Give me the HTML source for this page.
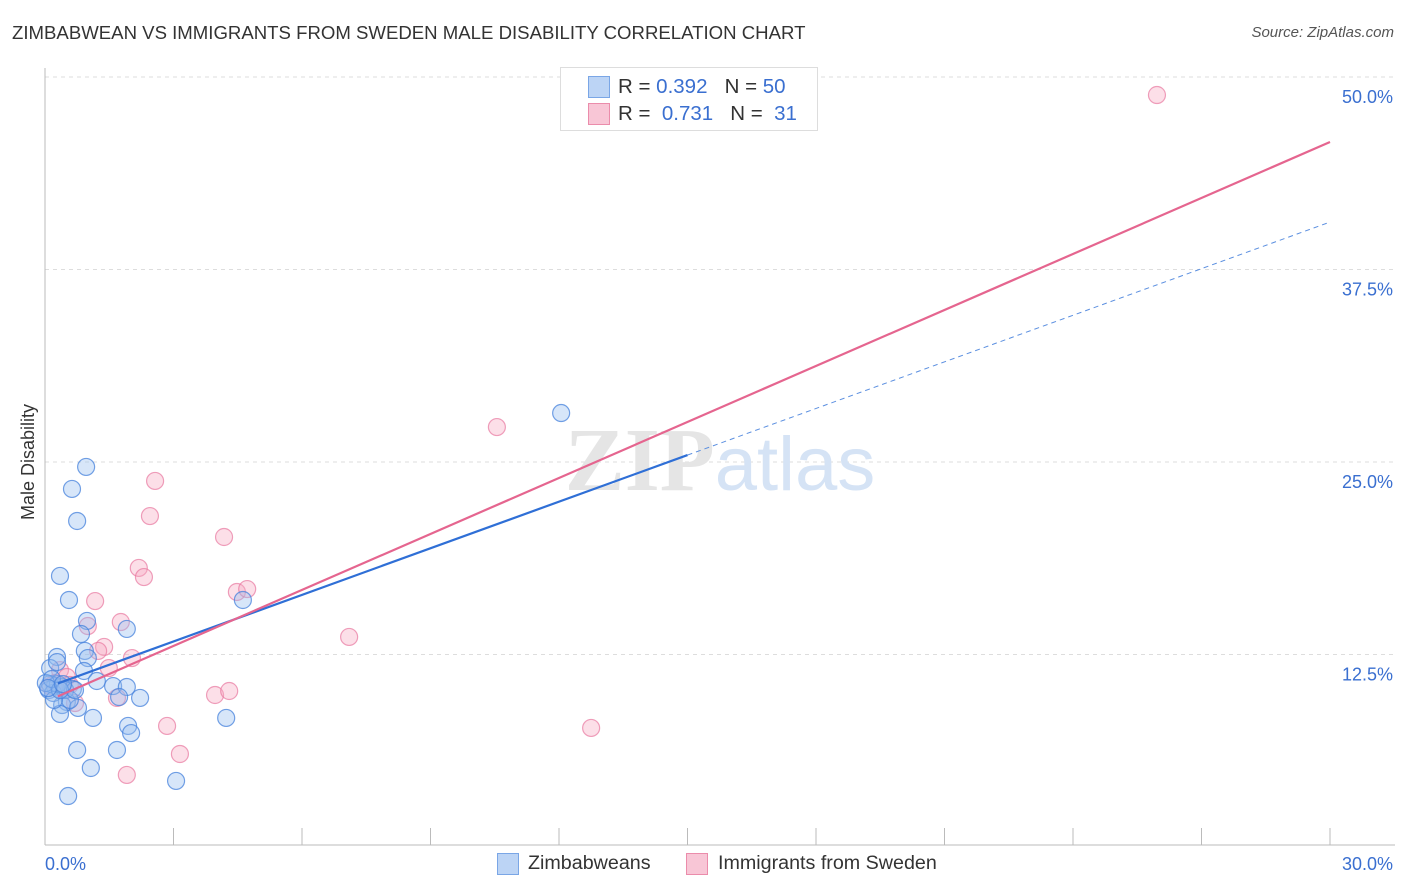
<!DOCTYPE html>
<html><head><meta charset="utf-8"><style>
body{margin:0;background:#fff;font-family:"Liberation Sans",sans-serif;}
#wrap{position:relative;width:1406px;height:892px;overflow:hidden;}
.t{position:absolute;white-space:nowrap;}
</style></head><body>
<div id="wrap">
<div class="t" style="left:12px;top:22px;font-size:18.6px;color:#333;">ZIMBABWEAN VS IMMIGRANTS FROM SWEDEN MALE DISABILITY CORRELATION CHART</div>
<div class="t" style="right:12px;top:24px;font-size:15px;color:#555;font-style:italic;">Source: ZipAtlas.com</div>
<div class="t" style="font-size:18px;color:#333;transform:rotate(-90deg);transform-origin:left top;top:520px;left:18px;">Male Disability</div>
<svg id="svg" width="1406" height="892" style="position:absolute;left:0;top:0"></svg>
<div class="t" style="left:560px;top:67px;width:256px;height:62px;border:1px solid #ddd;background:#fff;font-size:20.5px;color:#333;">
  <div style="position:absolute;left:27px;top:8px;width:20px;height:20px;background:#bcd4f5;border:1px solid #7aa6e6;"></div>
  <div style="position:absolute;left:57px;top:7px;">R = <span style="color:#3a6fd0">0.392</span>&nbsp;&nbsp;&nbsp;N = <span style="color:#3a6fd0">50</span></div>
  <div style="position:absolute;left:27px;top:35px;width:20px;height:20px;background:#f8c6d6;border:1px solid #eb8cab;"></div>
  <div style="position:absolute;left:57px;top:34px;">R = &nbsp;<span style="color:#3a6fd0">0.731</span>&nbsp;&nbsp;&nbsp;N = &nbsp;<span style="color:#3a6fd0">31</span></div>
</div>
<div class="t" style="left:497px;top:853px;width:20px;height:20px;background:#bcd4f5;border:1px solid #7aa6e6;"></div>
<div class="t" style="left:528px;top:852px;font-size:19.7px;color:#333;">Zimbabweans</div>
<div class="t" style="left:686px;top:853px;width:20px;height:20px;background:#f8c6d6;border:1px solid #eb8cab;"></div>
<div class="t" style="left:718px;top:852px;font-size:19.7px;color:#333;">Immigrants from Sweden</div>
</div>
<script>
const blueX=[0.96,0.63,0.75,0.35,0.56,0.98,1.91,0.84,0.93,0.28,1.00,0.12,0.91,1.21,0.12,0.23,0.40,0.65,1.59,1.91,1.73,2.22,0.51,0.40,0.77,0.35,1.12,1.94,2.01,4.23,0.75,1.68,1.07,0.54,3.06,12.05,4.62,0.09,0.19,0.30,0.47,0.58,0.21,0.02,0.16,0.28,0.70,0.35,0.07,0.42];
const blueY=[24.68,23.25,21.17,17.60,16.04,14.68,14.16,13.83,12.73,12.34,12.27,11.62,11.43,10.78,10.58,10.45,10.39,10.26,10.45,10.39,9.74,9.68,9.42,9.22,9.03,8.64,8.38,7.86,7.40,8.38,6.30,6.30,5.13,3.31,4.29,28.18,16.04,10.19,10.00,10.58,10.19,9.55,9.55,10.65,10.91,12.01,10.19,10.19,10.32,10.58];
const pinkX=[25.96,10.55,2.57,2.45,4.18,2.19,2.31,1.17,4.48,4.72,1.77,1.00,7.10,1.38,1.24,2.03,1.49,0.35,0.51,3.97,4.30,1.68,0.70,2.85,12.75,3.15,1.91,0.23,0.40,0.12,0.58];
const pinkY=[48.83,27.27,23.77,21.49,20.13,18.12,17.53,15.97,16.56,16.75,14.61,14.35,13.64,12.99,12.73,12.27,11.62,11.49,11.04,9.87,10.13,9.68,9.35,7.86,7.73,6.04,4.68,10.65,10.19,10.45,10.52];
const blueTrend=[10.32,40.58];
const pinkTrend=[9.42,45.78];
const yTicks=[12.5,25,37.5,50];
const yTickLabels=["12.5%","25.0%","37.5%","50.0%"];
const xTicks=[0,3,6,9,12,15,18,21,24,27,30];

const X0=45,X1=1330,Y0=847,Y1=77;
const sx=v=>X0+(v/30)*(X1-X0);
const sy=v=>Y0-(v/50)*(Y0-Y1);
const svg=document.getElementById('svg');
const NS='http://www.w3.org/2000/svg';
function mk(tag,attrs){const e=document.createElementNS(NS,tag);for(const k in attrs)e.setAttribute(k,attrs[k]);svg.appendChild(e);return e;}

yTicks.forEach((v,i)=>{
  const g=mk('line',{x1:X0,x2:1395,y1:sy(v),y2:sy(v),stroke:'#ddd','stroke-dasharray':'4,4'});
  
  
  const t=mk('text',{x:1393,y:sy(v)+26,'text-anchor':'end','font-size':18,fill:'#3a6fd0','font-family':'Liberation Sans, sans-serif'});
  t.textContent=yTickLabels[i];
  
  
});
const ax=mk('line',{x1:X0,x2:X0,y1:68,y2:845,stroke:'#bbb'});


const bx=mk('line',{x1:X0,x2:1395,y1:845,y2:845,stroke:'#bbb'});


xTicks.forEach(v=>{
  if(v===0)return;
  const l=mk('line',{x1:sx(v),x2:sx(v),y1:828,y2:845,stroke:'#bbb'});
  
  
});
[[0,'0.0%','start',45],[30,'30.0%','end',1393]].forEach(a=>{
  const t=mk('text',{x:a[3],y:870,'text-anchor':a[2],'font-size':18,fill:'#3a6fd0','font-family':'Liberation Sans, sans-serif'});
  t.textContent=a[1];
  
  
});
const wm=mk('text',{x:720,y:490,'text-anchor':'middle','font-size':90,fill:'#e5e5e5','font-family':'Liberation Serif, serif','font-weight':'bold'});
wm.innerHTML='ZIP<tspan fill="#d5e3f5" font-family="Liberation Sans, sans-serif" font-weight="normal" font-size="76">atlas</tspan>';



function dot(x,y,fill,stroke,name){
  const c=mk('circle',{cx:sx(x),cy:sy(y),r:8.5,fill:fill,stroke:stroke,'stroke-width':1.2});
  
  
}
pinkX.forEach((x,i)=>dot(x,pinkY[i],'rgba(246,170,195,0.38)','rgba(232,120,160,0.7)','sweden-point'));
blueX.forEach((x,i)=>dot(x,blueY[i],'rgba(150,190,240,0.38)','rgba(70,130,220,0.75)','zimbabwean-point'));

const bt=v=>blueTrend[0]+(blueTrend[1]-blueTrend[0])*v/30;
const pt=v=>pinkTrend[0]+(pinkTrend[1]-pinkTrend[0])*v/30;
const b1=mk('line',{x1:sx(0.3),y1:sy(bt(0.3)),x2:sx(15),y2:sy(bt(15)),stroke:'#2f6fd6','stroke-width':2.2});


const b2=mk('line',{x1:sx(15),y1:sy(bt(15)),x2:sx(30),y2:sy(bt(30)),stroke:'#5b8fe0','stroke-width':1,'stroke-dasharray':'5,4'});


const p1=mk('line',{x1:sx(0.3),y1:sy(pt(0.3)),x2:sx(30),y2:sy(pt(30)),stroke:'#e5658f','stroke-width':2.2});


</script>
</body></html>
